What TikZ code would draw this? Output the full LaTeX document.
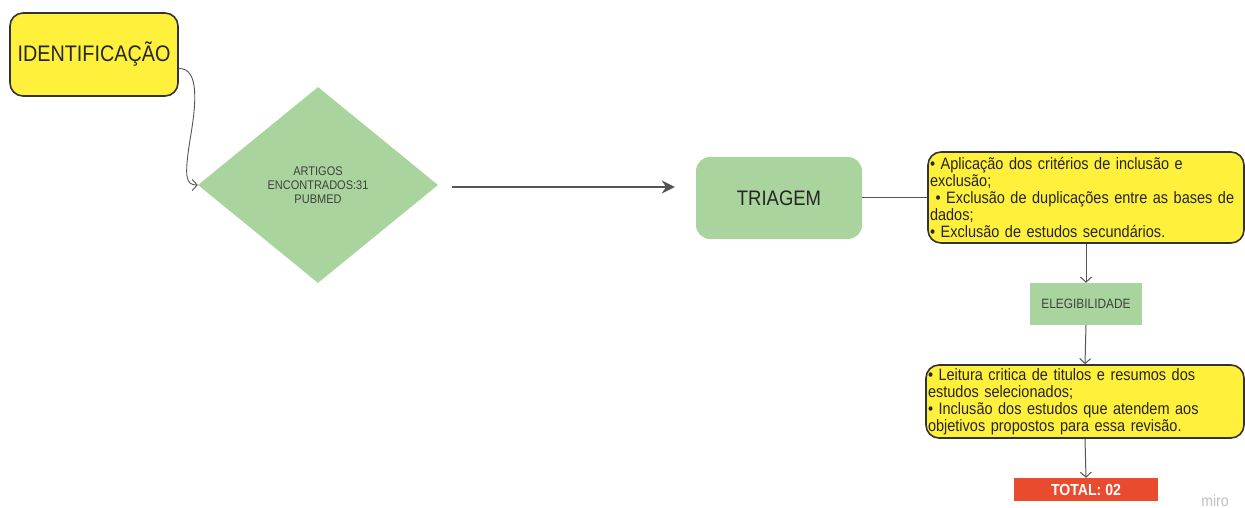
\documentclass[tikz,border=0pt]{standalone}
\usepackage{fontspec}
\setmainfont{Liberation Sans}[FakeStretch=0.88]
\usetikzlibrary{shapes.geometric,arrows.meta,calc}
\definecolor{ylw}{HTML}{FFF03C}
\definecolor{grn}{HTML}{A9D49D}
\definecolor{redbox}{HTML}{E94B2F}
\definecolor{edge}{HTML}{333333}
\definecolor{conn}{HTML}{555555}
\tikzset{
  yellowbox/.style={draw=edge, line width=1.6pt, fill=ylw, rounded corners=13pt},
  greenbox/.style={fill=grn, rounded corners=14pt},
  notebox/.style={yellowbox, inner sep=2pt, align=left, anchor=center,
     font=\fontsize{16.5}{17}\selectfont, text=black!85},
  thinconn/.style={draw=conn, line width=1pt},
  barb/.style={thinconn, -{Straight Barb[length=5pt,width=11pt]}},
}
\begin{document}
\begin{tikzpicture}[x=1pt,y=-1pt]
\useasboundingbox (0,0) rectangle (1245,508);
% IDENTIFICACAO
\node[yellowbox, minimum width=168, minimum height=83, inner sep=0,
      font=\fontsize{22.5}{25}\selectfont, text=black!85] (ident) at (94,54.5) {\raisebox{2pt}{IDENTIFICAÇÃO}};
% diamond
\node[diamond, fill=grn, minimum width=240, minimum height=196, inner sep=0, aspect=1.22,
      align=center, font=\fontsize{12.5}{14}\selectfont, text=black!75] (dia) at (318,185)
      {ARTIGOS\\ENCONTRADOS:31\\PUBMED};
% triagem
\node[greenbox, minimum width=166, minimum height=82, inner sep=0,
      font=\fontsize{21}{23}\selectfont, text=black!85] (tri) at (779,198) {TRIAGEM};
% box 1
\node[notebox, minimum width=316, minimum height=91, text width=312] (b1) at (1086,197.5)
{• Aplicação dos critérios de inclusão e\\
exclusão;\\
\ • Exclusão de duplicações entre as bases de\\
dados;\\
• Exclusão de estudos secundários.};
% elegibilidade
\node[fill=grn, minimum width=112, minimum height=42, inner sep=0,
      font=\fontsize{13.5}{14}\selectfont, text=black!75] (eleg) at (1086,304) {ELEGIBILIDADE};
% box 2
\node[notebox, minimum width=318, minimum height=73, text width=314] (b2) at (1085,401.5)
{• Leitura critica de titulos e resumos dos\\
estudos selecionados;\\
• Inclusão dos estudos que atendem aos\\
objetivos propostos para essa revisão.};
% total
\node[fill=redbox, minimum width=144, minimum height=23, inner sep=0,
      font=\fontsize{16}{18}\bfseries, text=white] (tot) at (1086,489.5) {TOTAL: 02};
% miro watermark
\node[font=\fontsize{16}{16}\selectfont, text=black!25, anchor=center] (miro) at (1215,501) {miro};

% connectors
\coordinate (c0) at ($(ident.east)+(0,14)$);
\draw[barb, line width=0.9pt] (c0) .. controls (200,68) and (196,105) .. (190,140)
      .. controls (184,178) and (186,185) .. (dia.west);
\coordinate (a0) at ($(dia.east)+(14,2)$);
\coordinate (a1) at ($(tri.west)+(-21,-11)$);
\draw[draw=conn, line width=2.5pt, -{Stealth[length=13pt,width=13pt]}, color=conn] (a0) -- (a1);
\draw[thinconn] (tri.east |- b1.west) -- (b1.west);
\draw[barb] (b1.south) -- (eleg.north);
\draw[barb] (eleg.south) -- (b2.north);
\draw[barb] (b2.south) -- (tot.north);
\end{tikzpicture}
\end{document}
